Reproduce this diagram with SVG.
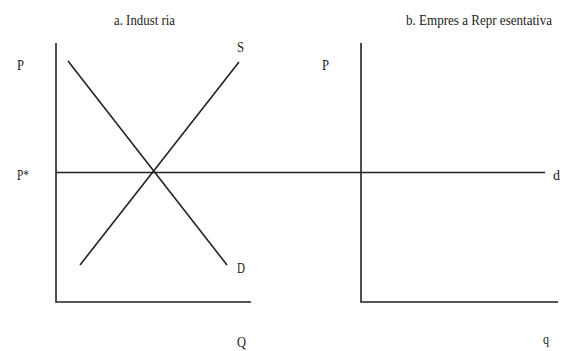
<svg xmlns="http://www.w3.org/2000/svg" width="568" height="351" viewBox="0 0 568 351">
<style>
.ln{stroke:#222;stroke-width:1.6;fill:none}
.t{font-family:"Liberation Serif","Times New Roman",serif;font-size:15px;fill:#222}
</style>
<rect width="568" height="351" fill="#fff"/>
<g id="axes">
<polyline id="axis-a" class="ln" points="56,43 56,302 251,302"/>
<polyline id="axis-b" class="ln" points="361,43 361,302 558,302"/>
</g>
<g id="connectors">
<line id="demand" class="ln" x1="68" y1="61" x2="227" y2="265"/>
<line id="supply" class="ln" x1="80" y1="265" x2="239" y2="62"/>
<line id="price" class="ln" x1="56" y1="172.5" x2="545" y2="172.5"/>
</g>
<g id="labels">
<text class="t" x="114" y="25" textLength="61" lengthAdjust="spacingAndGlyphs">a. Indust ria</text>
<text class="t" x="406" y="25" textLength="146" lengthAdjust="spacingAndGlyphs">b. Empres a Repr esentativa</text>
<text class="t" x="17" y="70" textLength="7" lengthAdjust="spacingAndGlyphs">P</text>
<text class="t" x="17" y="180" textLength="12" lengthAdjust="spacingAndGlyphs">P*</text>
<text class="t" x="237" y="52" textLength="7" lengthAdjust="spacingAndGlyphs">S</text>
<text class="t" x="237" y="273" textLength="8" lengthAdjust="spacingAndGlyphs">D</text>
<text class="t" x="237" y="347" textLength="9" lengthAdjust="spacingAndGlyphs">Q</text>
<text class="t" x="322" y="70" textLength="7" lengthAdjust="spacingAndGlyphs">P</text>
<text class="t" x="553" y="180" textLength="7" lengthAdjust="spacingAndGlyphs">d</text>
<text class="t" x="543" y="344" textLength="6" lengthAdjust="spacingAndGlyphs">q</text>
</g>
</svg>
